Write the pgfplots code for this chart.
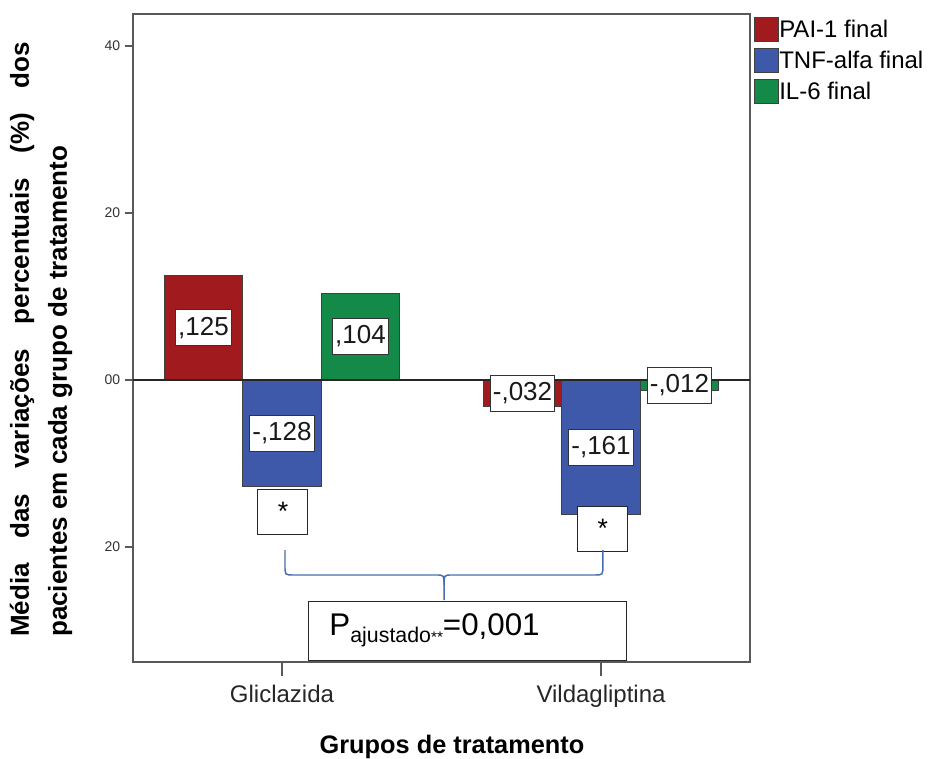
\documentclass[border=0pt]{standalone}
\usepackage{pgfplots}
\pgfplotsset{compat=1.18}
\usepackage{fontspec}
\setmainfont{Liberation Sans}
\definecolor{pai}{RGB}{160,26,30}
\definecolor{tnf}{RGB}{62,88,170}
\definecolor{ilsix}{RGB}{20,138,72}
\definecolor{bracec}{RGB}{70,110,175}
\newcommand{\ylab}{\makebox[446pt][s]{Média das variações percentuais (\%) dos}\\pacientes em cada grupo de tratamento}
\begin{document}
\begin{tikzpicture}
\useasboundingbox (-99.75pt,-72pt) rectangle (602.25pt,496.5pt);
\begin{axis}[
  scale only axis, width=462.75pt, height=486pt,
  at={(0pt,0pt)}, anchor=south west,
  xmin=-0.467, xmax=1.467, ymin=-0.3377, ymax=0.4383,
  xtick={0,1}, xticklabels={Gliclazida,Vildagliptina},
  every major x tick/.style={draw=none},
  minor xtick={0,1}, minor tick length=10.5pt,
  ytick={-0.2,0,0.2,0.4}, yticklabels={20,00,20,40},
  major tick length=6pt,
  tick align=outside, tick pos=left,
  axis line style={black!65, line width=1.5pt},
  every tick/.style={black!65, line width=1.2pt},
  yticklabel style={font=\fontsize{10.5}{10.5}\selectfont, text=black!80},
  xticklabel style={font=\fontsize{18}{18}\selectfont, text=black!85, yshift=-7.5pt},
  xlabel={Grupos de tratamento},
  xlabel style={font=\bfseries\fontsize{19}{19}\selectfont, at={(axis description cs:0.517,-0.1405)}, anchor=base},
  ylabel={\ylab},
  ylabel style={font=\bfseries\fontsize{19.5}{28.5}\selectfont, align=left, at={(axis description cs:-0.1491,0.4977)}, anchor=center},
  legend style={at={(rel axis cs:1,1)}, anchor=north west, xshift=3pt, yshift=-2.25pt,
    draw=none, fill=none, inner sep=0pt, row sep=4.5pt,
    font=\fontsize{18}{18}\selectfont,
    nodes={inner sep=0pt},
    /tikz/every even column/.append style={column sep=3pt}},
  legend cell align=left,
  clip=false,
]
\addlegendimage{legend image code/.code={\draw[fill=pai, draw=black!75, line width=0.75pt] (0pt,-9pt) rectangle (18pt,9pt);}}
\addlegendentry{PAI-1 final}
\addlegendimage{legend image code/.code={\draw[fill=tnf, draw=black!75, line width=0.75pt] (0pt,-9pt) rectangle (18pt,9pt);}}
\addlegendentry{TNF-alfa final}
\addlegendimage{legend image code/.code={\draw[fill=ilsix, draw=black!75, line width=0.75pt] (0pt,-9pt) rectangle (18pt,9pt);}}
\addlegendentry{IL-6 final}

\addplot[ybar, bar width=0.246, bar shift=-0.246, fill=pai, draw=black!75, line width=0.75pt, forget plot]
  coordinates {(0,0.125) (1,-0.032)};
\addplot[ybar, bar width=0.246, bar shift=0, fill=tnf, draw=black!75, line width=0.75pt, forget plot]
  coordinates {(0,-0.128) (1,-0.161)};
\addplot[ybar, bar width=0.246, bar shift=0.246, fill=ilsix, draw=black!75, line width=0.75pt, forget plot]
  coordinates {(0,0.104) (1,-0.012)};

\addplot[draw=none, mark=none, forget plot, point meta=explicit symbolic,
  nodes near coords,
  every node near coord/.style={anchor=center, draw=black!80, fill=white, line width=0.75pt,
    font=\fontsize{19.5}{19.5}\selectfont, text=black!90, inner xsep=2pt, inner ysep=0pt, minimum height=27pt}]
  table[meta=lab, row sep=\\] {
  x y lab\\
  -0.246 0.0625 ,125\\
  0 -0.064 -,128\\
  0.246 0.052 ,104\\
  0.754 -0.016 -,032\\
  1 -0.0805 -,161\\
  1.246 -0.006 -,012\\
  };

\draw[black!85, line width=1.1pt] (axis cs:-0.467,0) -- (axis cs:1.467,0);

\node[draw=black!85, fill=white, line width=0.75pt, minimum width=37.5pt, minimum height=33.75pt, inner sep=0pt,
  font=\fontsize{20}{20}\selectfont] at (axis cs:0.003,-0.1575) {*};
\node[draw=black!85, fill=white, line width=0.75pt, minimum width=37.5pt, minimum height=33.75pt, inner sep=0pt,
  font=\fontsize{20}{20}\selectfont] at (axis cs:1.006,-0.178) {*};

\draw[bracec, line width=1.1pt]
  (axis cs:0.0094,-0.2036) -- (axis cs:0.0094,-0.2216)
  .. controls (axis cs:0.0094,-0.2335) .. (axis cs:0.035,-0.2335)
  -- (axis cs:0.482,-0.2335)
  .. controls (axis cs:0.508,-0.2335) .. (axis cs:0.508,-0.2455)
  -- (axis cs:0.508,-0.2635);
\draw[bracec, line width=1.1pt]
  (axis cs:0.508,-0.2455)
  .. controls (axis cs:0.508,-0.2335) .. (axis cs:0.534,-0.2335)
  -- (axis cs:0.98,-0.2335)
  .. controls (axis cs:1.006,-0.2335) .. (axis cs:1.006,-0.2216)
  -- (axis cs:1.006,-0.2036);

\node[draw=black!85, fill=white, line width=0.75pt, minimum width=238.5pt, minimum height=44.25pt,
  inner sep=0pt, anchor=west, text width=207pt, align=left,
  font=\fontsize{23.5}{23.5}\selectfont]
  at (axis cs:0.0815,-0.3) {P\raisebox{-5pt}{\fontsize{16}{16}\selectfont ajustado{\fontsize{11.5}{11.5}\selectfont **}}=0,001};
\end{axis}
\end{tikzpicture}
\end{document}
